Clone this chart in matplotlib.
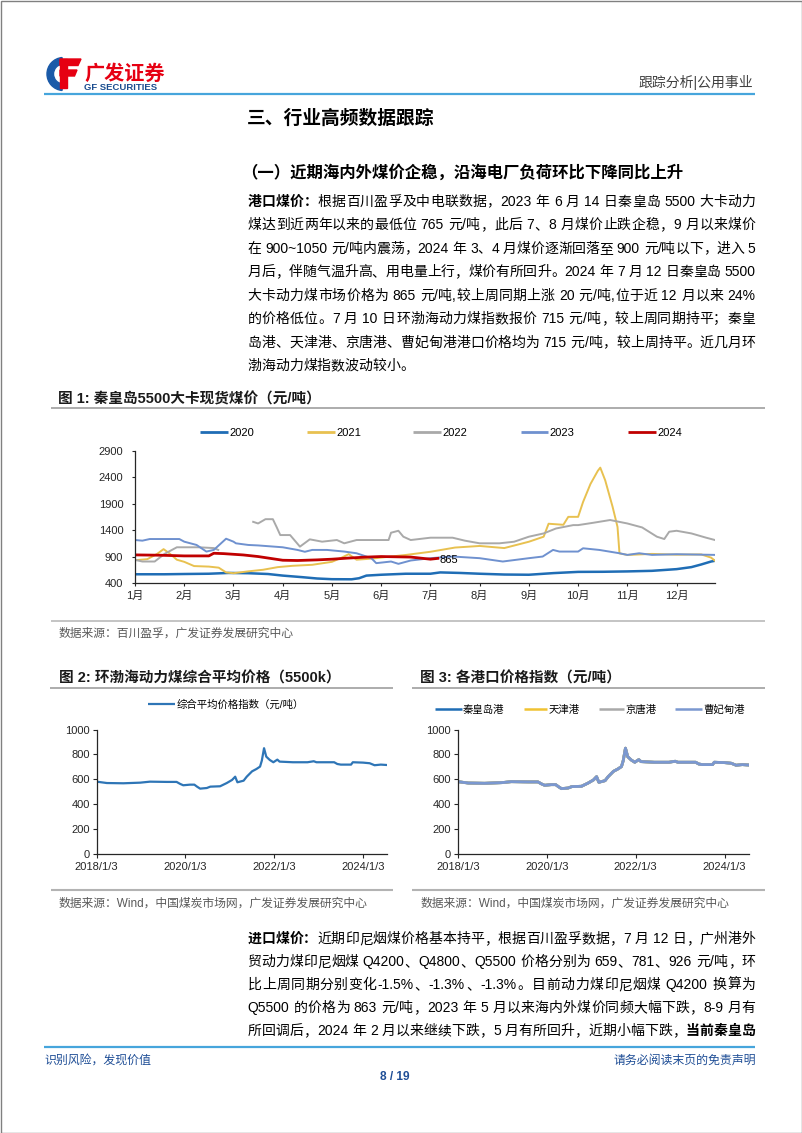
import re
import numpy as np
import matplotlib
matplotlib.use("Agg")
import matplotlib.pyplot as plt
from matplotlib.font_manager import FontProperties, findfont, get_font
from matplotlib.patches import Rectangle, Wedge, Polygon

W, H = 802, 1133
CJK = "Noto Sans CJK SC"
LAT = "Liberation Sans"
plt.rcParams["font.family"] = [LAT, CJK, "DejaVu Sans"]
plt.rcParams["axes.unicode_minus"] = False

# ---------------- 图1 秦皇岛5500大卡现货煤价 (x: 月份序号, 0 = 1月初) ----------------
months = ["1月", "2月", "3月", "4月", "5月", "6月", "7月", "8月", "9月", "10月", "11月", "12月"]
years = ["2020", "2021", "2022", "2023", "2024"]
year_colors = ["#1f6db5", "#e8c150", "#a9a9a9", "#6f91cf", "#c00000"]

x2020 = [0, 0.6, 1.0, 1.5, 1.9, 2.3, 2.7, 3.0, 3.4, 3.7, 4.0, 4.4, 4.55, 4.7, 5.0, 5.5,
         6.0, 6.2, 6.6, 7.0, 7.5, 8.0, 8.5, 9.0, 9.5, 10.0, 10.5, 11.0, 11.3, 11.5, 11.7, 11.78]
y2020 = [565, 565, 570, 575, 590, 585, 570, 540, 510, 485, 472, 470, 490, 540, 556, 575,
         575, 600, 590, 575, 560, 556, 587, 610, 612, 619, 630, 662, 700, 750, 806, 820]

x2021 = [0, 0.25, 0.45, 0.58, 0.7, 0.85, 1.0, 1.2, 1.5, 1.7, 1.85, 2.0, 2.3, 2.6, 2.9, 3.2,
         3.6, 4.0, 4.2, 4.34, 4.5, 4.8, 5.0, 5.5, 6.0, 6.5, 7.0, 7.5, 8.0, 8.3, 8.4, 8.7,
         8.8, 9.0, 9.1, 9.25, 9.4, 9.45, 9.55, 9.7, 9.8, 9.84, 10.0, 10.5, 11.0, 11.5, 11.7, 11.78]
y2021 = [830, 850, 950, 1040, 960, 840, 800, 720, 710, 690, 600, 585, 620, 650, 700, 725,
         744, 800, 880, 945, 840, 860, 880, 930, 990, 1070, 1100, 1060, 1180, 1275, 1520, 1500,
         1650, 1650, 1930, 2270, 2520, 2580, 2340, 1840, 1460, 960, 930, 950, 935, 940, 880, 820]

x2022 = [0, 0.15, 0.4, 0.6, 0.85, 1.3, 1.6, 1.69, 2.0, 2.4, 2.5, 2.65, 2.8, 2.88, 2.95, 3.15,
         3.35, 3.55, 3.8, 4.1, 4.25, 4.5, 5.15, 5.2, 5.35, 5.45, 5.6, 6.0, 6.45, 6.7, 7.0, 7.4,
         7.7, 8.0, 8.3, 8.55, 8.9, 9.0, 9.3, 9.65, 10.0, 10.3, 10.6, 10.75, 10.85, 11.0, 11.3,
         11.6, 11.78]
y2022 = [837, 806, 806, 950, 1075, 1075, 1060, 1025, np.nan, 1556, 1525, 1606, 1606, 1450, 1306, 1306,
         1087, 1225, 1181, 1212, 1150, 1212, 1212, 1350, 1387, 1275, 1212, 1256, 1256, 1200, 1150, 1150,
         1180, 1275, 1337, 1430, 1494, 1494, 1537, 1590, 1525, 1450, 1275, 1231, 1369, 1387, 1337,
         1256, 1212]

x2023 = [0, 0.15, 0.3, 0.9, 1.0, 1.25, 1.45, 1.6, 1.85, 2.0, 2.05, 2.3, 2.5, 3.0, 3.3, 3.45,
         3.6, 3.9, 4.25, 4.5, 4.8, 4.9, 5.2, 5.35, 5.6, 6.0, 6.46, 7.0, 7.47, 8.0, 8.28, 8.49,
         8.62, 9.0, 9.1, 9.43, 9.84, 10.0, 10.24, 10.5, 11.0, 11.78]
y2023 = [1212, 1200, 1231, 1231, 1181, 1119, 994, 1025, 1237, 1181, 1150, 1119, 1110, 1075, 1025, 990,
         1025, 1025, 994, 962, 869, 775, 806, 762, 825, 869, 900, 869, 806, 869, 900, 1025,
         994, 994, 1056, 1025, 962, 931, 962, 931, 944, 931]

x2024 = [0, 0.5, 1.0, 1.5, 1.6, 1.8, 2.2, 2.5, 3.0, 3.3, 3.7, 4.0, 4.3, 4.7, 5.0, 5.6, 6.0, 6.15]
y2024 = [931, 925, 912, 912, 962, 955, 930, 900, 830, 825, 837, 850, 869, 890, 900, 890, 850, 865]

# ---------------- 图2 / 图3 环渤海动力煤价格指数 (x: 年份) ----------------
bspi_t = [2018.0, 2018.23, 2018.6, 2018.98, 2019.2, 2019.58, 2019.8, 2019.88, 2019.95, 2020.1,
          2020.2, 2020.26, 2020.33, 2020.48, 2020.56, 2020.78, 2020.93, 2021.05, 2021.12, 2021.17,
          2021.31, 2021.38, 2021.5, 2021.6, 2021.68, 2021.72, 2021.77, 2021.82, 2021.9, 2021.98,
          2022.07, 2022.12, 2022.42, 2022.75, 2022.89, 2022.95, 2023.35, 2023.42, 2023.5, 2023.73,
          2023.77, 2024.0, 2024.15, 2024.26, 2024.4, 2024.53]
bspi_v = [581, 570, 568, 573, 581, 579, 579, 563, 552, 557,
          557, 541, 525, 530, 541, 544, 570, 595, 621, 576,
          589, 621, 664, 683, 702, 750, 850, 782, 755, 737,
          758, 742, 737, 737, 745, 737, 737, 723, 718, 718,
          737, 734, 729, 713, 718, 715]
year_ticks = [2018, 2020, 2022, 2024]
year_labels = ["2018/1/3", "2020/1/3", "2022/1/3", "2024/1/3"]
ports = ["秦皇岛港", "天津港", "京唐港", "曹妃甸港"]
port_colors = ["#1f6db5", "#f0c232", "#a9a9a9", "#7b98d0"]
qhd_v = list(bspi_v)   # 四个港口报价在图中重合
tj_v = list(bspi_v)
jt_v = list(bspi_v)
cfd_v = list(bspi_v)
port_vals = [qhd_v, tj_v, jt_v, cfd_v]

# ---------------- 正文 ----------------
para1 = [
    [("港口煤价：", True), ("根据百川盈孚及中电联数据，2023 年 6 月 14 日秦皇岛 5500 大卡动力", False)],
    [("煤达到近两年以来的最低位 765 元/吨，此后 7、8 月煤价止跌企稳，9 月以来煤价", False)],
    [("在 900~1050 元/吨内震荡，2024 年 3、4 月煤价逐渐回落至 900 元/吨以下，进入 5", False)],
    [("月后，伴随气温升高、用电量上行，煤价有所回升。2024 年 7 月 12 日秦皇岛 5500", False)],
    [("大卡动力煤市场价格为 865 元/吨,较上周同期上涨 20 元/吨,位于近 12 月以来 24%", False)],
    [("的价格低位。7 月 10 日环渤海动力煤指数报价 715 元/吨，较上周同期持平；秦皇", False)],
    [("岛港、天津港、京唐港、曹妃甸港港口价格均为 715 元/吨，较上周持平。近几月环", False)],
    [("渤海动力煤指数波动较小。", False)],
]
para2 = [
    [("进口煤价：", True), ("近期印尼烟煤价格基本持平，根据百川盈孚数据，7 月 12 日，广州港外", False)],
    [("贸动力煤印尼烟煤 Q4200、Q4800、Q5500 价格分别为 659、781、926 元/吨，环", False)],
    [("比上周同期分别变化-1.5%、-1.3%、-1.3%。目前动力煤印尼烟煤 Q4200 换算为", False)],
    [("Q5500 的价格为 863 元/吨，2023 年 5 月以来海内外煤价同频大幅下跌，8-9 月有", False)],
    [("所回调后，2024 年 2 月以来继续下跌，5 月有所回升，近期小幅下跌，", False), ("当前秦皇岛", True)],
]

fig = plt.figure(figsize=(W / 100, H / 100), dpi=100)
pg = fig.add_axes([0, 0, 1, 1])
pg.set_xlim(0, W)
pg.set_ylim(H, 0)
pg.axis("off")


def px(pt):
    return pt * 100 / 72


def hline(x0, x1, y, color, lw):
    pg.plot([x0, x1], [y, y], color=color, lw=lw, solid_capstyle="butt")


def txt(x, yc, s, size, color="black", bold=False, ha="left"):
    pg.text(x, yc + 0.37 * px(size), s, fontsize=size, color=color,
            fontweight="bold" if bold else "normal", ha=ha, va="baseline",
            family=[LAT, CJK])


def fprop(ch, size, bold):
    fam = LAT if ord(ch) < 128 else CJK
    return FontProperties(family=fam, size=size, weight="bold" if bold else "normal")


def raw_adv(tok, fp):
    try:
        f = get_font(findfont(fp), hinting_factor=1)
        f.set_size(fp.get_size_in_points(), 100)
        return sum(f.load_char(ord(c)).linearHoriAdvance / 65536.0 for c in tok)
    except Exception:
        em = px(fp.get_size_in_points())
        return sum(em if ord(c) > 127 else 0.55 * em for c in tok)


def put_line(segs, yc, x0=247.5, x1=755.5, size=10, justify=True):
    ref = raw_adv("国", fprop("国", size, False))
    k = px(size) / ref if ref > 0 else 1.0
    toks = []
    for text, bold in segs:
        for t in re.findall(r"[!-~]+| |[^\x00-\x7f]", text):
            fp = fprop(t[0], size, bold)
            toks.append((t, fp, raw_adv(t, fp) * k))
    total = sum(w for _, _, w in toks)
    gap = (x1 - x0 - total) / (len(toks) - 1) if justify else 0.0
    x = x0
    base = yc + 0.37 * px(size)
    for t, fp, w in toks:
        if t != " ":
            pg.text(x, base, t, fontproperties=fp, ha="left", va="baseline", color="black")
        x += w + gap


def px_axes(l, t, r, b):
    ax = fig.add_axes([l / W, 1 - b / H, (r - l) / W, (b - t) / H])
    ax.set_facecolor("none")
    for s in ("top", "right"):
        ax.spines[s].set_visible(False)
    for s in ("left", "bottom"):
        ax.spines[s].set_color("#262626")
        ax.spines[s].set_linewidth(0.9)
    return ax


# ---------------- 页眉 ----------------
pg.add_patch(Rectangle((0.5, 0.5), W - 1, H - 1, fill=False, edgecolor="#808080", lw=1.0))
pg.add_patch(Wedge((63.5, 74), 16.5, 95, 265, width=6.5, color="#1a5aa8"))
pg.add_patch(Polygon([(60, 59), (81, 59), (78, 65.5), (60, 65.5)], color="#e60012"))
pg.add_patch(Polygon([(60, 70), (77, 70), (74.5, 76), (60, 76)], color="#e60012"))
pg.add_patch(Polygon([(60, 59), (66.5, 59), (66.5, 88), (60, 88)], color="#e60012"))
txt(84, 72, "广发证券", 14.5, color="#e60012", bold=True)
txt(84, 86.5, "GF SECURITIES", 6.8, color="#1a4c8f", bold=True)
txt(753, 81.7, "跟踪分析|公用事业", 10, color="#404040", ha="right")
hline(44, 755, 93.5, "#46a5dc", 1.6)

txt(247, 116.5, "三、行业高频数据跟踪", 13.5, bold=True)
txt(241, 172, "（一）近期海内外煤价企稳，沿海电厂负荷环比下降同比上升", 11.8, bold=True)

for i, segs in enumerate(para1):
    put_line(segs, 200.5 + 23.5 * i, justify=(i < len(para1) - 1))

# ---------------- 图1 ----------------
txt(58.5, 398, "图 1: 秦皇岛5500大卡现货煤价（元/吨）", 10.5, color="#1a1a1a", bold=True)
hline(51, 765, 408.3, "#a6a6a6", 1.3)
leg1 = [(199.5, 227.6), (307, 335), (413, 441), (521, 548), (628, 656)]
for (a, b), lab, c in zip(leg1, years, year_colors):
    hline(a, b, 432, c, 2.0)
    txt(b + 1.5, 432, lab, 8)

ax1 = px_axes(135, 450.7, 715, 583)
series1 = [(x2020, y2020, 1.8), (x2021, y2021, 1.4), (x2022, y2022, 1.4),
           (x2023, y2023, 1.4), (x2024, y2024, 2.0)]
for (xs, ys, lw), c in zip(series1, year_colors):
    ax1.plot(xs, ys, color=c, lw=lw)
ax1.annotate("865", xy=(x2024[-1], y2024[-1]), xytext=(1.5, -1), textcoords="offset points",
             va="center", ha="left", fontsize=8, color="black")
ax1.set_xlim(0, 11.78)
ax1.set_ylim(400, 2900)
ax1.set_yticks([400, 900, 1400, 1900, 2400, 2900])
ax1.set_xticks(range(12))
ax1.set_xticklabels(months)
ax1.tick_params(axis="y", labelsize=8, length=2.4, width=0.8, pad=6, colors="#262626")
ax1.tick_params(axis="x", labelsize=8, length=2.4, width=0.8, pad=3, colors="#262626")

hline(51, 765, 620.7, "#bfbfbf", 1.3)
txt(59, 632.5, "数据来源：百川盈孚，广发证券发展研究中心", 8.5, color="#595959")

# ---------------- 图2 ----------------
txt(59, 676.7, "图 2: 环渤海动力煤综合平均价格（5500k）", 10.5, color="#1a1a1a", bold=True)
hline(50, 393, 688.3, "#a6a6a6", 1.3)
hline(147.7, 175, 704, "#2e75b6", 1.6)
txt(176.7, 704, "综合平均价格指数（元/吨）", 7.5)

ax2 = px_axes(96.7, 729.5, 387, 854)
ax2.plot(bspi_t, bspi_v, color="#2e75b6", lw=1.6)

# ---------------- 图3 ----------------
txt(420.5, 676.7, "图 3: 各港口价格指数（元/吨）", 10.5, color="#1a1a1a", bold=True)
hline(412, 765, 688.3, "#a6a6a6", 1.3)
leg3 = [(435, 461.7), (524, 546.7), (599, 624), (675, 701.7)]
for (a, b), lab, c in zip(leg3, ports, port_colors):
    hline(a, b, 709, c, 1.8)
    txt(b + 1.5, 709, lab, 7.5)

ax3 = px_axes(458, 729.5, 748.5, 854)
for vals, c in zip(port_vals, port_colors):
    ax3.plot(bspi_t, vals, color=c, lw=2.0)

for ax in (ax2, ax3):
    ax.set_xlim(2018, 2024.54)
    ax.set_ylim(0, 1000)
    ax.set_yticks(range(0, 1001, 200))
    ax.set_xticks(year_ticks)
    ax.set_xticklabels(year_labels)
    ax.tick_params(axis="y", labelsize=8, length=3, width=0.8, pad=2, colors="#262626")
    ax.tick_params(axis="x", labelsize=8, length=3, width=0.8, pad=2.5, colors="#262626")

hline(51, 393, 890, "#b3b3b3", 1.5)
hline(412, 765, 890, "#b3b3b3", 1.5)
txt(59, 902, "数据来源：Wind，中国煤炭市场网，广发证券发展研究中心", 8.5, color="#595959")
txt(420.5, 902, "数据来源：Wind，中国煤炭市场网，广发证券发展研究中心", 8.5, color="#595959")

for i, segs in enumerate(para2):
    put_line(segs, 938 + 23.0 * i)

# ---------------- 页脚 ----------------
hline(44, 755, 1047, "#46a5dc", 1.6)
txt(44, 1059, "识别风险，发现价值", 8.6, color="#1f4e96")
txt(756, 1059, "请务必阅读末页的免责声明", 8.6, color="#1f4e96", ha="right")
txt(395, 1076, "8 / 19", 8.6, color="#1f4e96", bold=True, ha="center")

fig.savefig("out.png", dpi=100)
